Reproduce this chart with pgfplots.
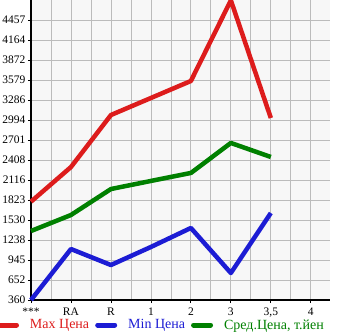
\documentclass[border=0pt]{standalone}
\usepackage{pgfplots}
\pgfplotsset{compat=1.18}
\usepackage{fontspec}
\setmainfont{Liberation Serif}
\definecolor{cred}{HTML}{DD1C1C}
\definecolor{cblue}{HTML}{1C1CD4}
\definecolor{cgreen}{HTML}{008000}
\definecolor{cbg}{HTML}{F7F7F7}
\definecolor{cgrid}{HTML}{BBBBBB}
\begin{document}
\begin{tikzpicture}[x=1pt,y=1pt]
\useasboundingbox (-31,-35) rectangle (314,300);
\begin{axis}[at={(0,0)},anchor=origin,
  scale only axis, width=299pt, height=300pt,
  xmin=0, xmax=7.48, ymin=360, ymax=4750,
  axis background/.style={fill=cbg},
  axis x line*=bottom, axis y line*=left,
  axis line style={black, line width=1.6pt,-},
  xtick={0,...,7},
  xticklabels={***,RA,R,1,2,3,{3,5},4},
  minor xtick={0.5,1.5,...,7.5},
  ytick={360,652,945,1238,1530,1823,2116,2408,2701,2994,3286,3579,3872,4164,4457},
  yticklabels={360,652,945,1238,1530,1823,2116,2408,2701,2994,3286,3579,3872,4164,4457},
  xmajorgrids, xminorgrids, ymajorgrids, yminorgrids=false,
  grid style={cgrid, line width=0.8pt},
  minor grid style={cgrid, line width=0.8pt},
  tick style={black, line width=0.8pt},
  major tick length=3pt, minor tick length=0pt,
  tick align=outside,
  ticklabel style={font=\fontsize{11.5}{11.5}\selectfont, text=black},
  xticklabel style={yshift=-1pt},
  yticklabel style={xshift=1pt},
  clip=false,
  legend columns=3,
  legend style={draw=none, fill=none, at={(-34pt,-25pt)}, anchor=west,
    font=\fontsize{14}{14}\selectfont, inner sep=0pt, outer sep=0pt,
    /tikz/every even column/.append style={column sep=6pt},
    /tikz/every odd column/.append style={column sep=11pt},
    nodes={inner sep=0pt}},
  legend image code/.code={\draw[#1, line width=5pt, line cap=round] (2.5pt,0pt) -- (19.5pt,0pt);},
]
\addplot[cred, line width=4.5pt, line join=round] coordinates {
(0,1799) (1,2306) (2,3067) (3,3316) (4,3565) (5,4745) (6,3023)};
\addlegendentry{\textcolor{cred}{Max Цена}}
\addplot[cblue, line width=4.5pt, line join=round] coordinates {
(0,360) (1,1106) (2,872) (3,1136) (4,1414) (5,755) (6,1633)};
\addlegendentry{\textcolor{cblue}{Min Цена}}
\addplot[cgreen, line width=4.5pt, line join=round] coordinates {
(0,1370) (1,1604) (2,1984) (3,2102) (4,2219) (5,2658) (6,2453)};
\addlegendentry{\textcolor{cgreen}{Сред.Цена, т.йен}}
\end{axis}
\end{tikzpicture}
\end{document}
